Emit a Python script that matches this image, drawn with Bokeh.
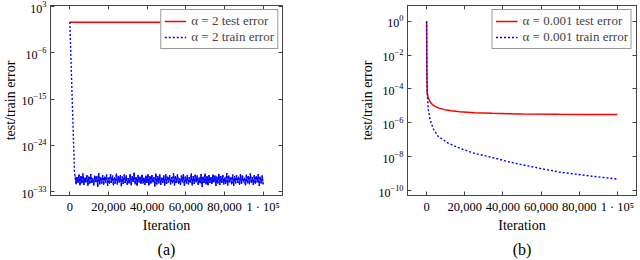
import numpy as np
from bokeh.plotting import figure
from bokeh.models import (Range1d, FixedTicker, LogAxis, LinearAxis, Legend, LegendItem,
                          Title, CustomJSTickFormatter)
from bokeh.layouts import row
from bokeh.embed import file_html
from bokeh.resources import INLINE

FONT = "Liberation Serif"

# ---------------- data ----------------
X_TICKS = [0, 20000, 40000, 60000, 80000, 100000]
Y_TICKS_A = [1e3, 1e-6, 1e-15, 1e-24, 1e-33]
Y_TICKS_B = [1e0, 1e-2, 1e-4, 1e-6, 1e-8, 1e-10]

# panel (a): alpha = 2
iter_test_a = [0, 100000]
log_test_a = [-0.07, -0.07]
iter_drop_a = [0, 2400]
log_drop_a = [0.0, -29.4]
band_log_a = [
    -29.9, -31.6, -30.2, -31.3, -29.7, -31.8, -30.0, -31.4, -29.5, -31.7, -30.3, -31.2,
    -29.8, -31.9, -30.1, -31.5, -29.6, -31.3, -30.4, -31.8, -29.9, -31.1, -30.0, -32.1,
    -29.4, -31.6, -30.2, -31.4, -29.8, -31.7, -30.1, -31.2, -29.7, -31.9, -30.3, -31.5,
    -29.6, -31.3, -29.9, -31.8, -30.2, -31.4, -29.5, -31.6, -30.0, -31.2, -29.8, -32.0,
    -30.1, -31.5, -29.7, -31.3, -29.9, -31.7, -30.4, -31.4, -29.6, -31.8, -30.0, -31.1,
    -29.3, -31.6, -30.2, -31.9, -29.8, -31.2, -30.1, -31.5, -29.7, -31.4, -30.3, -31.7,
    -29.9, -31.3, -29.6, -31.8, -30.0, -31.5, -29.8, -31.2, -30.2, -32.0, -29.5, -31.6,
    -30.0, -31.4, -29.7, -31.7, -30.3, -31.3, -29.9, -31.9, -29.6, -31.5, -30.1, -31.2,
    -29.8, -31.6, -30.2, -31.4, -29.4, -31.8, -30.0, -31.3, -29.7, -31.5, -30.4, -31.7,
    -29.9, -31.2, -29.6, -31.9, -30.1, -31.4, -29.8, -31.6, -30.2, -31.3, -29.5, -31.8,
    -30.0, -31.5, -29.7, -31.2, -29.9, -31.7, -30.3, -31.4, -29.6, -32.1, -30.1, -31.3,
    -29.5, -31.6, -30.0, -31.8, -29.8, -31.3, -30.2, -31.5, -29.7, -31.2, -29.9, -31.9,
    -30.1, -31.4, -29.6, -31.7, -30.0, -31.3, -29.8, -31.6, -30.3, -31.5, -29.4, -31.8,
    -29.9, -31.2, -30.2, -31.6, -29.7, -31.9, -30.0, -31.4, -29.8, -31.3, -30.1, -31.7,
    -29.6, -31.5, -29.9, -31.2, -30.3, -31.8, -29.7, -31.4, -30.0, -31.6, -29.5, -31.3,
    -30.2, -31.7, -29.8, -31.5, -30.0, -31.2, -29.6, -31.9, -30.1, -31.4, -29.9, -31.6,
]
band_start_a, band_end_a = 2700, 100000

# panel (b): alpha = 0.001
iter_test_b = [0, 150, 300, 800, 1800, 3000, 4400, 6500, 9600, 13000, 17400, 25200,
               34500, 50000, 69400, 85000, 100000]
log_test_b = [0.0, -3.0, -4.2, -4.5, -4.75, -4.92, -5.03, -5.13, -5.22, -5.29, -5.34, -5.40,
              -5.44, -5.47, -5.49, -5.50, -5.51]
iter_train_b = [0, 150, 400, 900, 1800, 3500, 6100, 11300, 17400, 25000, 34700, 43000,
                52000, 60000, 69400, 78000, 86600, 93000, 100000]
log_train_b = [0.0, -3.0, -4.4, -5.2, -5.8, -6.35, -6.8, -7.2, -7.5, -7.8, -8.05, -8.3,
               -8.52, -8.7, -8.9, -9.03, -9.15, -9.23, -9.32]

LEG_A = ["α = 2 test error", "α = 2 train error"]
LEG_B = ["α = 0.001 test error", "α = 0.001 train error"]

RED = "#ff0000"
BLUE = "#0000ff"
FRAME = "#444444"

X_FMT = CustomJSTickFormatter(code="""
if (tick >= 100000) { return "1 \u00b7 10\u2075"; }
return String(Math.round(tick)).replace(/\\B(?=(\\d{3})+(?!\\d))/g, ",");
""")


def style_axis(ax, ticks, labels=True):
    ax.ticker = FixedTicker(ticks=ticks)
    ax.major_tick_in = 4
    ax.major_tick_out = 0
    ax.minor_tick_line_color = None
    ax.axis_line_color = FRAME
    ax.major_tick_line_color = FRAME
    ax.major_label_text_font = FONT
    ax.major_label_text_font_size = "12.5px"
    ax.major_label_text_color = "black"
    ax.axis_label_text_font = FONT
    ax.axis_label_text_font_style = "normal"
    ax.axis_label_text_font_size = "14px"
    ax.axis_label_text_color = "black"
    if not labels:
        ax.formatter = CustomJSTickFormatter(code="return '';")
        ax.major_label_standoff = 0
        ax.major_label_text_font_size = "1px"


def make_panel(yr, yticks, mbl, mbr, caption):
    p = figure(width=320, height=260, x_range=Range1d(-10000, 110000), y_range=Range1d(*yr),
               y_axis_type="log", output_backend="svg", toolbar_location=None,
               min_border_left=mbl, min_border_right=mbr, min_border_top=5, min_border_bottom=64)
    p.grid.visible = False
    p.outline_line_color = FRAME
    p.outline_line_width = 1
    style_axis(p.xaxis[0], X_TICKS)
    p.xaxis[0].formatter = X_FMT
    p.xaxis[0].major_label_standoff = 4
    p.xaxis[0].axis_label = "Iteration"
    p.xaxis[0].axis_label_standoff = 1
    style_axis(p.yaxis[0], yticks)
    p.yaxis[0].major_label_text_font_size = "12px"
    p.yaxis[0].major_label_standoff = 4
    p.yaxis[0].axis_label = "test/train error"
    p.yaxis[0].axis_label_standoff = 0
    top = LinearAxis()
    style_axis(top, X_TICKS, labels=False)
    p.add_layout(top, "above")
    right = LogAxis()
    style_axis(right, yticks, labels=False)
    p.add_layout(right, "right")
    p.add_layout(Title(text=caption, align="center", text_font=FONT, text_font_size="16px",
                       text_font_style="normal", text_color="black", standoff=6, offset=0), "below")
    return p


def add_legend(p, items):
    leg = Legend(items=items, location="top_right", margin=4, padding=3, spacing=0,
                 label_height=14, glyph_height=14, glyph_width=22, label_standoff=5,
                 label_text_font=FONT, label_text_font_size="13px",
                 border_line_color="#333333", border_line_width=1,
                 background_fill_color="white", background_fill_alpha=1)
    p.add_layout(leg)


# ---------- panel (a) ----------
pa = make_panel((10 ** -33.77, 10 ** 3.19), Y_TICKS_A, 48, 38, "(a)")
iter_band_a = list(np.linspace(band_start_a, band_end_a, len(band_log_a)))
iter_train_a = iter_drop_a + iter_band_a
val_train_a = [10 ** v for v in (log_drop_a + band_log_a)]
val_test_a = [10 ** v for v in log_test_a]
ra1 = pa.line(iter_test_a, val_test_a, line_color=RED, line_width=1.5)
pa.line(iter_band_a, [10 ** v for v in band_log_a], line_color=BLUE, line_width=0.9)
ra2 = pa.line(iter_train_a, val_train_a, line_color=BLUE, line_width=1.4, line_dash="2 2")
add_legend(pa, [LegendItem(label=LEG_A[0], renderers=[ra1]),
                LegendItem(label=LEG_A[1], renderers=[ra2])])

# ---------- panel (b) ----------
pb = make_panel((10 ** -10.29, 10 ** 0.93), Y_TICKS_B, 87, 4, "(b)")
rb1 = pb.line(iter_test_b, [10 ** v for v in log_test_b], line_color=RED, line_width=1.5)
rb2 = pb.line(iter_train_b, [10 ** v for v in log_train_b], line_color=BLUE, line_width=1.4,
              line_dash="2 2")
add_legend(pb, [LegendItem(label=LEG_B[0], renderers=[rb1]),
                LegendItem(label=LEG_B[1], renderers=[rb2])])

layout = row(pa, pb, spacing=0)
open("out.html", "w").write(file_html(layout, INLINE))
